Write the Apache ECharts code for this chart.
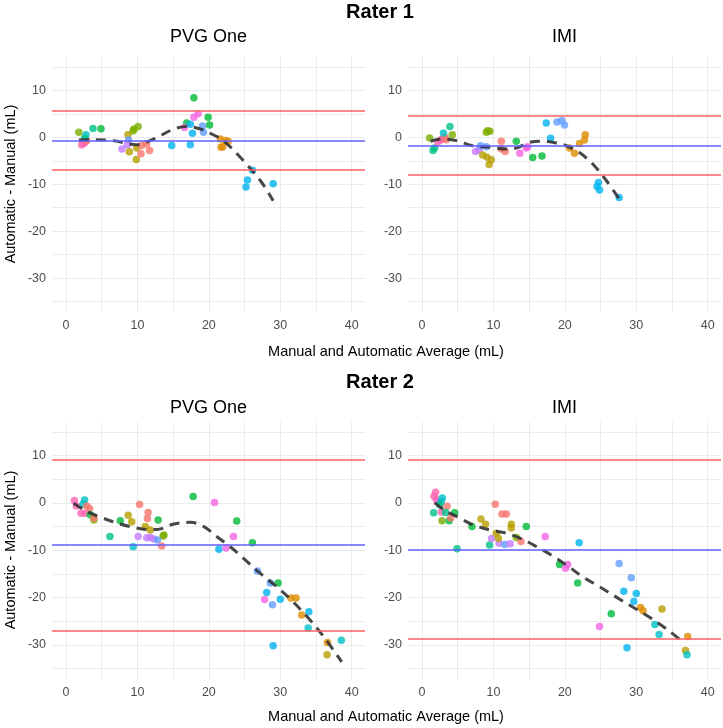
<!DOCTYPE html>
<html><head><meta charset="utf-8">
<script src="https://cdn.jsdelivr.net/npm/echarts@6/dist/echarts.min.js"></script>
<style>html,body{margin:0;padding:0;background:#fff}#c{width:723px;height:728px}</style>
</head><body><div id="c"></div>
<script>
// ggplot hue palette (subject colours)
const palette = ['#F8766D','#DE8C00','#B79F00','#7CAE00','#00BA38','#00C08B','#00BFC4','#00B4F0','#619CFF','#C77CFF','#F564E3','#FF64B0'];

const xTicks = [0, 10, 20, 30, 40];
const xGrid = [0, 5, 10, 15, 20, 25, 30, 35, 40];
const yTicks = [-30, -20, -10, 0, 10];
const yGrid = [-35, -30, -25, -20, -15, -10, -5, 0, 5, 10, 15];

// Rater 1 - PVG One
const r1pvgX = [1.8,2.2,2.5,2.7,2.9,2.8,2.6,3.78,4.9,8.67,9.5,10.1,9.4,8.76,7.83,8.6,8.86,9.9,9.84,10.6,11.3,11.7,10.5,14.8,17.9,18.5,17.9,16.9,19.9,20.1,16.6,17.4,17.7,17.4,19.1,19.25,21.6,21.95,22.3,22.7,21.7,26.1,25.4,25.2,29.0];
const r1pvgY = [1.06,-1.6,-1.3,-1.0,-0.7,0.57,-0.2,1.9,1.84,0.57,1.77,2.3,1.4,-0.57,-2.5,-1.56,-3.05,-2.3,-4.75,-1.77,-1.4,-2.8,-3.5,-1.77,8.4,5.0,4.25,3.05,4.25,2.6,2.1,2.8,0.85,-1.56,2.4,1.06,-0.35,-2.0,-0.7,-0.85,-2.1,-7.0,-9.1,-10.6,-9.9];
const r1pvgG = [3,11,11,11,0,6,5,5,4,2,3,3,3,8,9,9,2,2,2,0,0,0,0,7,4,10,10,4,4,4,10,7,7,7,8,8,1,1,1,1,1,7,7,7,7];
const r1pvgLoessX = [1.8,4.0,6.7,9.9,12.3,15.1,16.9,18.8,20.2,22.0,24.4,27.2,29.0];
const r1pvgLoessY = [-0.57,-0.5,-0.75,-1.56,-0.35,1.77,2.3,1.77,0.85,-0.7,-4.25,-9.2,-13.5];

// Rater 1 - IMI
const r1imiX = [1.07,1.54,1.77,2.2,2.6,2.9,3.2,3.4,3.0,3.9,4.24,7.5,8.0,8.2,9.0,9.0,9.2,9.5,8.5,9.1,9.7,9.4,11.1,11.1,11.65,13.2,13.7,14.6,14.8,15.5,16.8,17.4,18.0,18.9,19.6,19.95,20.65,21.35,22.05,22.75,22.85,24.7,24.5,24.85,27.6];
const r1imiY = [-0.14,-2.8,-2.3,-1.0,-0.6,-0.3,0.0,-0.5,0.9,2.3,0.57,-3.0,-2.7,-1.8,-2.0,1.06,1.4,1.3,-3.76,-4.25,-4.8,-5.8,-0.85,-2.5,-3.0,-0.85,-3.4,-2.3,-2.0,-4.3,-4.0,3.05,-0.2,3.26,3.5,2.6,-2.3,-3.4,-1.3,-0.57,0.57,-9.6,-10.5,-11.2,-12.8];
const r1imiG = [3,5,5,11,11,11,0,0,6,5,3,9,9,8,8,3,3,3,2,2,2,2,0,0,0,4,10,10,10,4,4,7,7,8,8,8,1,1,1,1,1,7,7,7,7];
const r1imiLoessX = [1.2,2.9,4.8,7.1,9.5,11.8,13.2,15.1,16.5,18.3,20.2,22.0,23.9,25.8,27.6];
const r1imiLoessY = [-0.85,-0.35,-0.7,-1.8,-2.1,-2.5,-2.3,-1.06,-0.85,-1.06,-1.8,-3.2,-5.7,-9.2,-13.1];

// Rater 2 - PVG One
const r2pvgX = [1.17,1.45,2.6,2.4,2.1,2.7,3.3,2.9,3.4,3.9,3.9,6.15,7.6,8.7,9.2,9.4,10.1,10.3,11.5,11.4,11.1,11.8,12.9,13.7,13.6,11.3,11.8,12.3,12.8,13.4,17.8,20.8,23.9,23.45,21.4,22.4,26.1,26.8,28.6,29.7,28.1,27.8,28.9,30.0,31.5,32.2,33.0,34.0,33.9,29.0,36.6,36.55,38.55];
const r2pvgY = [0.5,-0.64,0.64,-0.2,-2.2,-2.2,-1.2,-0.64,-2.5,-3.6,-3.25,-7.1,-3.75,-2.6,-4.0,-9.25,-7.1,-0.35,-2.0,-3.3,-5.0,-5.7,-3.6,-6.8,-7.0,-7.35,-7.3,-7.6,-7.85,-9.1,1.34,0.07,-3.8,-7.1,-9.8,-9.5,-8.4,-14.4,-16.9,-16.9,-18.9,-20.4,-21.5,-20.35,-20.1,-20.1,-23.7,-23.0,-26.4,-30.2,-29.5,-32.1,-29.0];
const r2pvgG = [11,11,6,6,11,11,0,0,4,3,0,5,4,2,2,6,9,0,0,0,2,2,4,3,3,9,9,9,8,0,4,10,4,10,7,10,4,8,8,4,7,10,8,7,1,1,1,7,6,7,1,2,6];
const r2pvgLoessX = [1.07,2.9,4.8,7.6,9.0,11.3,12.7,15.1,17.4,19.3,21.1,23.0,24.85,27.2,29.5,31.8,34.2,36.3,38.6];
const r2pvgLoessY = [-0.07,-1.8,-3.0,-4.45,-5.0,-5.6,-5.6,-4.45,-4.1,-5.0,-7.1,-9.25,-11.7,-14.9,-17.7,-20.9,-24.8,-28.7,-33.6];

// Rater 2 - IMI
const r2imiX = [1.68,1.9,2.0,2.3,2.85,2.7,2.5,1.63,2.7,2.8,3.8,3.5,4.0,3.3,4.57,4.9,7.0,8.25,8.9,9.46,9.74,10.8,11.6,12.35,10.4,10.7,10.26,11.2,11.8,12.5,12.5,13.2,14.6,13.85,17.25,22.0,19.25,20.1,20.4,21.8,27.6,29.3,28.25,30.0,29.65,26.5,24.85,28.7,30.6,30.95,33.6,32.6,33.2,37.2,36.9,37.1];
const r2imiY = [1.42,2.27,0.7,0.2,1.06,0.3,-0.4,-2.1,-1.9,-3.76,-3.76,-0.7,-3.2,-2.0,-2.1,-9.7,-5.0,-3.4,-4.5,-8.9,-7.5,-8.5,-8.8,-8.65,-6.4,-7.45,-0.28,-2.34,-2.34,-4.5,-5.3,-7.3,-5.0,-8.15,-7.1,-8.4,-13.0,-13.8,-13.0,-16.9,-12.8,-15.8,-18.65,-19.15,-20.85,-23.4,-26.1,-30.6,-22.1,-22.8,-22.4,-25.7,-27.8,-28.2,-31.2,-32.1];
const r2imiG = [11,11,11,10,6,6,5,5,11,3,4,0,0,5,4,5,4,2,2,5,9,9,8,9,2,2,0,0,0,2,2,3,4,0,10,7,4,10,10,4,8,8,7,7,7,4,10,7,1,1,2,6,6,1,2,6];
const r2imiLoessX = [1.77,3.4,5.3,7.1,9.5,11.8,13.7,16.0,18.1,20.2,22.5,24.85,27.2,29.5,31.8,34.2,36.3];
const r2imiLoessY = [0,-1.77,-3.2,-4.6,-5.7,-6.4,-7.45,-9.2,-11.0,-13.1,-15.6,-17.7,-19.9,-22.0,-24.1,-26.6,-29.1];

// Bias and limits of agreement per panel (R1 PVG, R1 IMI, R2 PVG, R2 IMI)
const biasMean = [-0.7, -1.7, -8.83, -9.86];
const loaUpper = [5.6, 4.6, 9.2, 9.08];
const loaLower = [-7.0, -7.95, -26.9, -28.7];

const panels = [
  {x: r1pvgX, y: r1pvgY, g: r1pvgG, lx: r1pvgLoessX, ly: r1pvgLoessY},
  {x: r1imiX, y: r1imiY, g: r1imiG, lx: r1imiLoessX, ly: r1imiLoessY},
  {x: r2pvgX, y: r2pvgY, g: r2pvgG, lx: r2pvgLoessX, ly: r2pvgLoessY},
  {x: r2imiX, y: r2imiY, g: r2imiG, lx: r2imiLoessX, ly: r2imiLoessY}
];

const FONT = 'Liberation Sans, Arial, Helvetica, sans-serif';
const grids = [
  {left: 52, top: 57, width: 313, height: 255},
  {left: 408, top: 57, width: 313, height: 255},
  {left: 52, top: 422, width: 313, height: 257},
  {left: 408, top: 422, width: 313, height: 257}
].map(g => Object.assign({containLabel: false, outerBoundsMode: 'none'}, g));

const gridLine = {show: true, lineStyle: {color: '#EBEBEB', width: 1}};
const xAxes = grids.map((g, i) => ({
  type: 'value', gridIndex: i, min: -1.96, max: 41.86,
  axisLine: {show: false}, axisTick: {show: false, customValues: xGrid},
  axisLabel: {customValues: xTicks, color: '#4D4D4D', fontSize: 12.5, margin: 7, fontFamily: FONT},
  splitLine: gridLine
}));
const yAxes = grids.map((g, i) => ({
  type: 'value', gridIndex: i, min: -37.2, max: 17.1,
  axisLine: {show: false}, axisTick: {show: false, customValues: yGrid},
  axisLabel: {customValues: yTicks, color: '#4D4D4D', fontSize: 12.5, margin: 6, fontFamily: FONT},
  splitLine: gridLine
}));

const series = [];
panels.forEach((p, i) => {
  series.push({
    type: 'scatter', xAxisIndex: i, yAxisIndex: i, data: [], z: 1, silent: true,
    markLine: {
      symbol: 'none', silent: true, label: {show: false}, animation: false,
      data: [
        {yAxis: loaUpper[i], lineStyle: {color: '#FF6161', width: 1.5, type: 'solid'}},
        {yAxis: loaLower[i], lineStyle: {color: '#FF6161', width: 1.5, type: 'solid'}},
        {yAxis: biasMean[i], lineStyle: {color: '#6161FF', width: 1.5, type: 'solid'}}
      ]
    }
  });
  series.push({
    type: 'scatter', xAxisIndex: i, yAxisIndex: i, z: 3, symbolSize: 7.5,
    data: p.x.map((v, k) => [v, p.y[k], p.g[k]]),
    itemStyle: {color: (d) => palette[d.data[2]], opacity: 0.8}
  });
  series.push({
    type: 'line', xAxisIndex: i, yAxisIndex: i, z: 4, showSymbol: false, smooth: 0.35,
    data: p.lx.map((v, k) => [v, p.ly[k]]),
    lineStyle: {color: 'rgba(51,51,51,0.9)', width: 3, type: [10, 7]}
  });
});

function txt(text, x, y, size, weight, rot) {
  return {type: 'text', x: x, y: y, rotation: rot || 0,
    style: {text: text, fill: '#000', font: (weight || 'normal') + ' ' + size + 'px ' + FONT, align: 'center', verticalAlign: 'middle'}};
}
const graphic = [
  txt('Rater 1', 380, 12, 20, 'bold'),
  txt('PVG One', 208.5, 37, 18),
  txt('IMI', 564.5, 37, 18),
  txt('Manual and Automatic Average (mL)', 386, 352, 14.5),
  txt('Automatic - Manual (mL)', 11, 184, 14.5, 'normal', Math.PI / 2),
  txt('Rater 2', 380, 382, 20, 'bold'),
  txt('PVG One', 208.5, 408, 18),
  txt('IMI', 564.5, 408, 18),
  txt('Manual and Automatic Average (mL)', 386, 717, 14.5),
  txt('Automatic - Manual (mL)', 11, 550, 14.5, 'normal', Math.PI / 2)
];

const chart = echarts.init(document.getElementById('c'), null, {renderer: 'canvas'});
chart.setOption({
  animation: false, backgroundColor: '#fff',
  grid: grids, xAxis: xAxes, yAxis: yAxes, series: series, graphic: graphic
});
</script></body></html>
